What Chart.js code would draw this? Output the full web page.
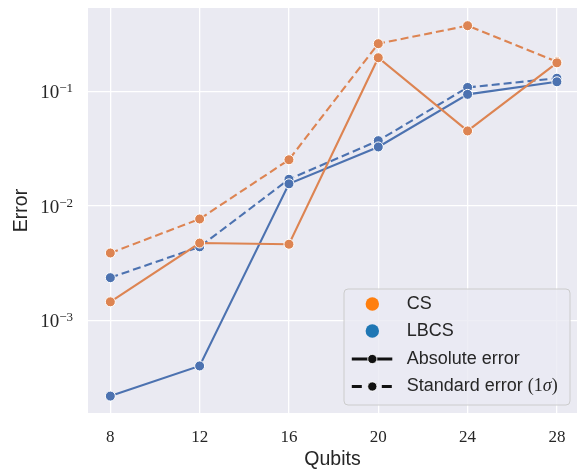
<!DOCTYPE html>
<html>
<head>
<meta charset="utf-8">
<script src="https://cdn.jsdelivr.net/npm/chart.js@4"></script>
<style>
  html, body { margin: 0; padding: 0; background: #fff; overflow: hidden; }
  #wrap { width: 577px; height: 471px; position: relative; }
</style>
</head>
<body>
<div id="wrap"><canvas id="chart" width="577" height="471"></canvas></div>
<script>
// values
const qubits = [8, 12, 16, 20, 24, 28];
const csAbs = [1.46e-3, 4.75e-3, 4.64e-3, 0.196, 0.0451, 0.177];
const csStd = [3.89e-3, 7.7e-3, 0.0253, 0.26, 0.373, 0.181];
const lbcsAbs = [2.2e-4, 4.03e-4, 0.0156, 0.0327, 0.094, 0.121];
const lbcsStd = [2.37e-3, 4.4e-3, 0.0171, 0.0371, 0.108, 0.13];

const xTicks = [8, 12, 16, 20, 24, 28];
const yTicks = [1e-3, 1e-2, 1e-1];
const yTickExps = ['\u22123', '\u22122', '\u22121'];

const orange = '#dd8452';
const blue = '#4c72b0';
const textColor = '#262626';
const serifFamily = '"Liberation Serif", "DejaVu Serif", serif';
const sansFamily = '"Liberation Sans", Arial, sans-serif';

function toPoints(ys) {
    return qubits.map((q, i) => ({ x: q, y: ys[i] }));
}

function series(label, ys, color, dashed) {
    return {
        label: label,
        data: toPoints(ys),
        borderColor: color,
        backgroundColor: color,
        borderWidth: 2.1,
        borderDash: dashed ? [8, 4] : [],
        pointRadius: 5,
        pointHoverRadius: 5,
        pointBackgroundColor: color,
        pointBorderColor: '#ffffff',
        pointBorderWidth: 1,
        tension: 0,
    };
}

// no extra padding for the tick labels at the ends
function noPad(s) {
    s.paddingTop = 0;
    s.paddingBottom = 0;
    s.paddingLeft = 0;
    s.paddingRight = 0;
}

// grey plot background
const plotBackground = {
    id: 'plotBackground',
    beforeDraw(chart) {
        const { ctx, chartArea: a } = chart;
        ctx.save();
        ctx.fillStyle = '#eaeaf2';
        ctx.fillRect(a.left, a.top, a.right - a.left, a.bottom - a.top);
        ctx.restore();
    }
};

// log tick labels as 10 with a raised exponent
const powerLabels = {
    id: 'powerLabels',
    afterDraw(chart) {
        const { ctx } = chart;
        const scale = chart.scales.y;
        const right = scale.right - 15;
        ctx.save();
        ctx.fillStyle = textColor;
        ctx.textAlign = 'left';
        ctx.textBaseline = 'alphabetic';
        yTicks.forEach((v, i) => {
            const y = scale.getPixelForValue(v);
            ctx.font = '13px ' + serifFamily;
            const ws = ctx.measureText(yTickExps[i]).width;
            ctx.font = '19px ' + serifFamily;
            const wb = ctx.measureText('10').width;
            ctx.fillText('10', right - ws - wb, y + 6.6);
            ctx.font = '13px ' + serifFamily;
            ctx.fillText(yTickExps[i], right - ws, y + 0.6);
        });
        ctx.restore();
    }
};

// legend like the seaborn one (colour entries + line style entries)
const customLegend = {
    id: 'customLegend',
    afterDraw(chart) {
        const { ctx, chartArea: a } = chart;
        const w = 226, h = 116;
        const x0 = a.right - 233;
        const y0 = a.bottom - 8 - h;
        ctx.save();
        ctx.beginPath();
        ctx.roundRect(x0, y0, w, h, 4);
        ctx.fillStyle = 'rgba(234,234,242,0.8)';
        ctx.fill();
        ctx.strokeStyle = '#cccccc';
        ctx.lineWidth = 1;
        ctx.stroke();

        const mx = x0 + 28.3;
        const tx = x0 + 62.7;
        const rows = [y0 + 15, y0 + 42, y0 + 70, y0 + 97.5];
        const sans = '18px ' + sansFamily;
        const serif = '18px ' + serifFamily;
        const serifIt = 'italic 18px ' + serifFamily;

        // colour markers
        [['#ff7f0e', 'CS'], ['#1f77b4', 'LBCS']].forEach(([c, t], i) => {
            ctx.beginPath();
            ctx.arc(mx, rows[i], 6.7, 0, Math.PI * 2);
            ctx.fillStyle = c;
            ctx.fill();
            ctx.fillStyle = textColor;
            ctx.font = sans;
            ctx.textBaseline = 'middle';
            ctx.textAlign = 'left';
            ctx.fillText(t, tx, rows[i]);
        });

        // line style markers
        [[false, rows[2]], [true, rows[3]]].forEach(([dashed, y]) => {
            ctx.beginPath();
            ctx.setLineDash(dashed ? [10, 20] : []);
            ctx.moveTo(mx - 20.5, y);
            ctx.lineTo(mx + 20, y);
            ctx.strokeStyle = '#111';
            ctx.lineWidth = 2.8;
            ctx.stroke();
            ctx.setLineDash([]);
            ctx.beginPath();
            ctx.arc(mx, y, 4.6, 0, Math.PI * 2);
            ctx.fillStyle = '#111';
            ctx.fill();
            ctx.strokeStyle = '#ffffff';
            ctx.lineWidth = 0.8;
            ctx.stroke();
        });

        ctx.fillStyle = textColor;
        ctx.textBaseline = 'middle';
        ctx.font = sans;
        ctx.fillText('Absolute error', tx, rows[2]);
        let x = tx;
        const parts = [['Standard error ', sans], ['(1', serif], ['\u03C3', serifIt], [')', serif]];
        parts.forEach(([t, f]) => {
            ctx.font = f;
            ctx.fillText(t, x, rows[3]);
            x += ctx.measureText(t).width;
        });
        ctx.restore();
    }
};

new Chart(document.getElementById('chart').getContext('2d'), {
    type: 'line',
    data: {
        datasets: [
            series('CS absolute', csAbs, orange, false),
            series('CS standard', csStd, orange, true),
            series('LBCS absolute', lbcsAbs, blue, false),
            series('LBCS standard', lbcsStd, blue, true),
        ]
    },
    options: {
        responsive: false,
        animation: false,
        devicePixelRatio: 1,
        layout: { autoPadding: false, padding: { top: 8, right: 0, left: 0, bottom: 0 } },
        plugins: {
            legend: { display: false },
            tooltip: { enabled: false },
        },
        scales: {
            x: {
                type: 'linear',
                min: 7,
                max: 28.9,
                afterBuildTicks: s => { s.ticks = xTicks.map(v => ({ value: v })); },
                afterFit: s => { s.height = 58; noPad(s); },
                grid: { color: '#ffffff', lineWidth: 1.3, drawTicks: false },
                border: { display: false },
                ticks: {
                    padding: 14,
                    color: textColor,
                    font: { family: serifFamily, size: 17 },
                    callback: v => String(v),
                },
                title: {
                    display: true,
                    text: 'Qubits',
                    color: textColor,
                    font: { family: sansFamily, size: 19.5 },
                    padding: { top: 0, bottom: 0 },
                },
            },
            y: {
                type: 'logarithmic',
                min: 1.567e-4,
                max: 0.532,
                afterBuildTicks: s => { s.ticks = yTicks.map(v => ({ value: v })); },
                afterFit: s => { s.width = 88; noPad(s); },
                grid: { color: '#ffffff', lineWidth: 1.3, drawTicks: false },
                border: { display: false },
                ticks: { display: false },
                title: {
                    display: true,
                    text: 'Error',
                    color: textColor,
                    font: { family: sansFamily, size: 19.5 },
                    padding: { top: 10, bottom: 0 },
                },
            },
        },
    },
    plugins: [plotBackground, powerLabels, customLegend],
});
</script>
</body>
</html>
